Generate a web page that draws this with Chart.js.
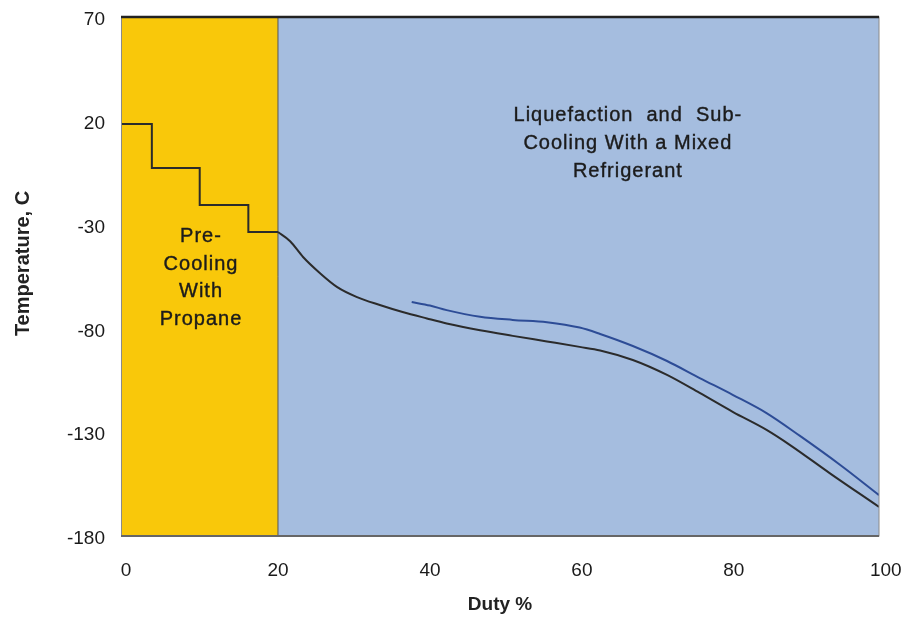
<!DOCTYPE html>
<html>
<head>
<meta charset="utf-8">
<script src="https://cdn.jsdelivr.net/npm/chart.js@4/dist/chart.umd.min.js"></script>
<style>
  body { margin: 0; background: #fff; }
  #wrap { width: 906px; height: 618px; }
</style>
</head>
<body>
<div id="wrap"><canvas id="chart" width="906" height="618"></canvas></div>
<script>
// axis ranges / ticks
const xMin = -0.66;
const xMax = 99.1;
const xTicks = [0, 20, 40, 60, 80, 100];
const yMin = -180;
const yMax = 70;
const yStep = 50;
const yTitle = 'Temperature, C';

// propane pre-cooling steps
const stepX = [xMin, 3.4, 9.7, 16.1, 20];
const stepY = [18.5, -2.7, -20.6, -33.6, -33.6];

// natural gas cooling curve (black)
const gasX = [20, 21.6, 23.3, 25.5, 27.8, 30.4, 33.4, 36.4, 39.6, 42.2, 46.6, 50.9, 55.4, 59.7, 62.4, 66.7, 71.2, 75.5, 79.9, 84.3, 87.4, 92.6, 99.1];
const gasY = [-33.6, -38.0, -45.6, -53.3, -60.1, -64.9, -68.7, -72.1, -75.2, -77.6, -80.9, -83.6, -86.3, -88.9, -90.6, -95.2, -102.4, -111.1, -120.3, -128.9, -136.2, -149.7, -166.0];

// mixed refrigerant curve (blue)
const mrX = [37.6, 40.0, 42.2, 46.6, 50.9, 55.4, 59.7, 62.4, 66.7, 71.2, 75.5, 79.9, 84.3, 88.7, 94.0, 99.1];
const mrY = [-67.3, -69.0, -71.2, -74.4, -75.9, -77.0, -79.6, -82.7, -88.5, -95.7, -103.9, -112.1, -120.8, -131.8, -145.8, -160.3];

// shaded regions
const regionFrom = [xMin, 20];
const regionTo = [20, xMax];
const regionColors = ['#F9C80A', '#A5BDDF'];

// region labels
const notes = [
  { x: 9.87, y: -35.8, lines: ['Pre-', 'Cooling', 'With', 'Propane'] },
  { x: 66.05, y: 22.4, lines: ['Liquefaction  and  Sub-', 'Cooling With a Mixed', 'Refrigerant'] }
];

const pts = (xs, ys) => xs.map((x, i) => ({ x: x, y: ys[i] }));

const tickFont = { family: 'Liberation Sans, Arial, sans-serif', size: 19 };
const titleFont = { family: 'Liberation Sans, Arial, sans-serif', size: 19, weight: 'bold' };

const regionsPlugin = {
  id: 'regions',
  beforeDatasetsDraw(chart) {
    const { ctx, chartArea, scales } = chart;
    ctx.save();
    regionFrom.forEach((from, i) => {
      const x1 = scales.x.getPixelForValue(from);
      const x2 = scales.x.getPixelForValue(regionTo[i]);
      ctx.fillStyle = regionColors[i];
      ctx.fillRect(x1, chartArea.top, x2 - x1, chartArea.bottom - chartArea.top);
    });
    // divider
    const xd = scales.x.getPixelForValue(regionTo[0]);
    ctx.strokeStyle = '#555';
    ctx.lineWidth = 1;
    ctx.beginPath();
    ctx.moveTo(xd, chartArea.top);
    ctx.lineTo(xd, chartArea.bottom);
    ctx.stroke();

    // notes
    ctx.fillStyle = '#1c1c1c';
    ctx.strokeStyle = '#1c1c1c';
    ctx.lineWidth = 0.4;
    ctx.font = '20px "Liberation Sans", Arial, sans-serif';
    ctx.letterSpacing = '1px';
    ctx.textAlign = 'center';
    ctx.textBaseline = 'middle';
    notes.forEach(n => {
      const px = scales.x.getPixelForValue(n.x);
      const py = scales.y.getPixelForValue(n.y);
      n.lines.forEach((t, i) => {
        ctx.fillText(t, px, py + i * 27.6);
        ctx.strokeText(t, px, py + i * 27.6);
      });
    });
    ctx.restore();
  },
  afterDatasetsDraw(chart) {
    const { ctx, chartArea } = chart;
    const { left, right, top, bottom } = chartArea;
    ctx.save();
    ctx.strokeStyle = '#8a8a8a';
    ctx.lineWidth = 1;
    ctx.strokeRect(left + 0.5, top, right - left - 0.5, bottom - top);
    ctx.strokeStyle = '#666';
    ctx.lineWidth = 2;
    ctx.beginPath();
    ctx.moveTo(left, bottom);
    ctx.lineTo(right, bottom);
    ctx.stroke();
    ctx.strokeStyle = '#222';
    ctx.lineWidth = 2.5;
    ctx.beginPath();
    ctx.moveTo(left, top);
    ctx.lineTo(right, top);
    ctx.stroke();

    // y axis title, sits a little above the axis middle in the original
    ctx.translate(23, (top + bottom) / 2 - 13);
    ctx.rotate(-Math.PI / 2);
    ctx.font = 'bold 20px "Liberation Sans", Arial, sans-serif';
    ctx.fillStyle = '#222';
    ctx.textAlign = 'center';
    ctx.textBaseline = 'middle';
    ctx.fillText(yTitle, 0, 0);
    ctx.restore();
  }
};

new Chart(document.getElementById('chart'), {
  type: 'line',
  data: {
    datasets: [
      {
        label: 'Propane',
        data: pts(stepX, stepY),
        stepped: 'before',
        borderColor: '#2b2b2b',
        borderWidth: 2,
        pointRadius: 0
      },
      {
        label: 'Natural gas',
        data: pts(gasX, gasY),
        cubicInterpolationMode: 'monotone',
        borderColor: '#2b2b2b',
        borderWidth: 2,
        pointRadius: 0
      },
      {
        label: 'Mixed refrigerant',
        data: pts(mrX, mrY),
        cubicInterpolationMode: 'monotone',
        borderColor: '#2D4C96',
        borderWidth: 2,
        pointRadius: 0
      }
    ]
  },
  options: {
    responsive: false,
    animation: false,
    layout: { padding: { left: 0, right: 27, top: 17, bottom: 0 } },
    plugins: {
      legend: { display: false },
      tooltip: { enabled: false }
    },
    scales: {
      x: {
        type: 'linear',
        min: xMin,
        max: xMax,
        afterBuildTicks: s => { s.ticks = xTicks.map(v => ({ value: v })); },
        afterFit: s => { s.height = 82; s.paddingLeft = 0; s.paddingRight = 0; },
        grid: { display: false, drawTicks: false },
        border: { display: false },
        ticks: { autoSkip: false, maxRotation: 0, padding: 23, font: tickFont, color: '#1a1a1a' },
        title: { display: true, text: 'Duty %', font: titleFont, color: '#222', padding: { top: 0, bottom: 2 } }
      },
      y: {
        min: yMin,
        max: yMax,
        afterFit: s => { s.width = 121; s.paddingTop = 0; s.paddingBottom = 0; },
        grid: { display: false, drawTicks: false },
        border: { display: false },
        ticks: { stepSize: yStep, padding: 16, labelOffset: 3, font: tickFont, color: '#1a1a1a' }
      }
    }
  },
  plugins: [regionsPlugin]
});
</script>
</body>
</html>
